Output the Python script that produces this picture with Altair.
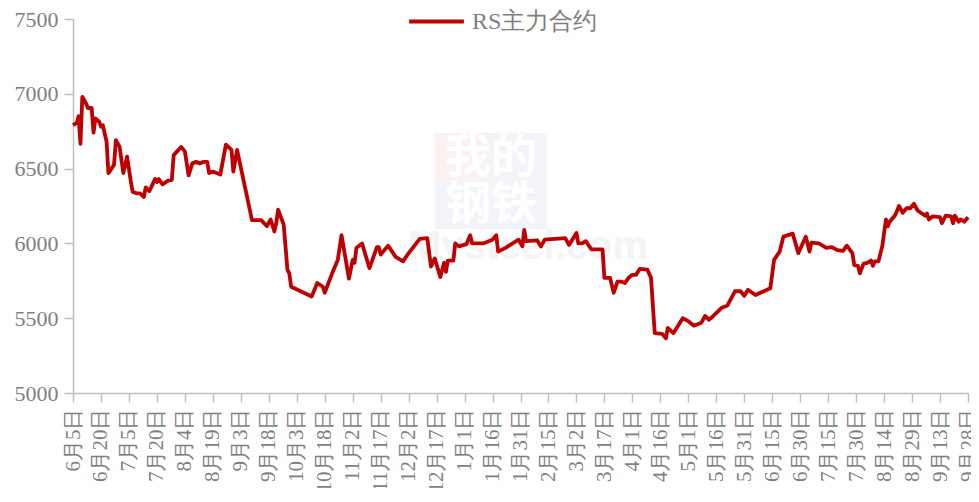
import altair as alt
import pandas as pd

SERIES_NAME = "RS主力合约"

DATES = [
    "2024-06-05", "2024-06-07", "2024-06-08", "2024-06-09", "2024-06-10", "2024-06-12", "2024-06-13",
    "2024-06-15", "2024-06-16", "2024-06-17", "2024-06-19", "2024-06-20", "2024-06-21", "2024-06-23",
    "2024-06-24", "2024-06-27", "2024-06-28", "2024-06-30", "2024-07-02", "2024-07-04", "2024-07-06",
    "2024-07-07", "2024-07-09", "2024-07-11", "2024-07-13", "2024-07-14", "2024-07-16", "2024-07-19",
    "2024-07-20", "2024-07-21", "2024-07-23", "2024-07-26", "2024-07-28", "2024-07-29", "2024-08-02",
    "2024-08-04", "2024-08-06", "2024-08-08", "2024-08-10", "2024-08-12", "2024-08-14", "2024-08-16",
    "2024-08-17", "2024-08-19", "2024-08-23", "2024-08-26", "2024-08-29", "2024-08-30", "2024-09-01",
    "2024-09-09", "2024-09-14", "2024-09-17", "2024-09-19", "2024-09-21", "2024-09-22", "2024-09-23",
    "2024-09-26", "2024-09-28", "2024-09-29", "2024-09-30", "2024-10-11", "2024-10-14", "2024-10-17",
    "2024-10-18", "2024-10-22", "2024-10-25", "2024-10-27", "2024-10-31", "2024-11-02", "2024-11-03",
    "2024-11-04", "2024-11-07", "2024-11-11", "2024-11-15", "2024-11-16", "2024-11-17", "2024-11-21",
    "2024-11-25", "2024-11-29", "2024-12-02", "2024-12-08", "2024-12-12", "2024-12-14", "2024-12-16",
    "2024-12-19", "2024-12-21", "2024-12-22", "2024-12-23", "2024-12-26", "2024-12-27", "2024-12-29",
    "2025-01-02", "2025-01-04", "2025-01-05", "2025-01-11", "2025-01-16", "2025-01-18", "2025-01-19",
    "2025-01-23", "2025-01-30", "2025-02-01", "2025-02-02", "2025-02-03", "2025-02-09", "2025-02-11",
    "2025-02-13", "2025-02-24", "2025-02-26", "2025-03-02", "2025-03-03", "2025-03-05", "2025-03-07",
    "2025-03-10", "2025-03-16", "2025-03-17", "2025-03-20", "2025-03-22", "2025-03-24", "2025-03-26",
    "2025-03-28", "2025-03-30", "2025-04-01", "2025-04-03", "2025-04-05", "2025-04-09", "2025-04-11",
    "2025-04-13", "2025-04-17", "2025-04-19", "2025-04-20", "2025-04-23", "2025-04-28", "2025-05-01",
    "2025-05-04", "2025-05-08", "2025-05-10", "2025-05-12", "2025-05-14", "2025-05-19", "2025-05-22",
    "2025-05-26", "2025-05-29", "2025-05-31", "2025-06-02", "2025-06-06", "2025-06-14", "2025-06-16",
    "2025-06-19", "2025-06-21", "2025-06-26", "2025-06-29", "2025-07-03", "2025-07-05", "2025-07-06",
    "2025-07-10", "2025-07-14", "2025-07-17", "2025-07-20", "2025-07-23", "2025-07-25", "2025-07-28",
    "2025-07-29", "2025-07-31", "2025-08-01", "2025-08-03", "2025-08-05", "2025-08-07", "2025-08-08",
    "2025-08-09", "2025-08-11", "2025-08-13", "2025-08-15", "2025-08-16", "2025-08-17", "2025-08-20",
    "2025-08-22", "2025-08-24", "2025-08-26", "2025-08-28", "2025-08-30", "2025-09-01", "2025-09-05",
    "2025-09-06", "2025-09-07", "2025-09-09", "2025-09-13", "2025-09-14", "2025-09-16", "2025-09-19",
    "2025-09-20", "2025-09-21", "2025-09-23", "2025-09-24", "2025-09-26", "2025-09-28",
]

VALUES = [
    6790, 6805, 6850, 6665, 6980, 6935, 6905,
    6905, 6740, 6835, 6815, 6780, 6790, 6680,
    6470, 6525, 6690, 6645, 6470, 6580, 6415,
    6345, 6335, 6335, 6310, 6375, 6350, 6430,
    6410, 6430, 6395, 6420, 6425, 6590, 6645,
    6615, 6455, 6535, 6545, 6535, 6545, 6545,
    6470, 6480, 6460, 6660, 6625, 6480, 6625,
    6155, 6155, 6115, 6160, 6080, 6135, 6225,
    6125, 5825, 5800, 5710, 5645, 5735, 5710,
    5670, 5800, 5890, 6055, 5765, 5890, 5870,
    5970, 6000, 5835, 5975, 5975, 5925, 5985,
    5910, 5880, 5935, 6030, 6035, 5845, 5900,
    5775, 5870, 5810, 5885, 5885, 6000, 5980,
    5995, 6055, 6000, 6000, 6025, 6055, 5945,
    5970, 6025, 5980, 6090, 6015, 6020, 5980,
    6025, 6035, 5990, 6070, 6000, 6000, 6015,
    5960, 5960, 5770, 5770, 5670, 5745, 5745,
    5735, 5770, 5790, 5790, 5830, 5825, 5770,
    5400, 5395, 5365, 5435, 5400, 5500, 5480,
    5450, 5470, 5515, 5490, 5510, 5570, 5585,
    5680, 5680, 5650, 5690, 5655, 5700, 5890,
    5945, 6045, 6065, 5935, 6045, 5945, 6005,
    6000, 5970, 5975, 5955, 5950, 5985, 5935,
    5855, 5850, 5800, 5865, 5870, 5885, 5850,
    5880, 5880, 5980, 6160, 6115, 6145, 6190,
    6250, 6205, 6235, 6235, 6265, 6220, 6185,
    6200, 6160, 6180, 6175, 6135, 6185, 6180,
    6135, 6185, 6145, 6160, 6145, 6175,
]

TICK_DATES = [
    "2024-06-05", "2024-06-20", "2024-07-05", "2024-07-20", "2024-08-04", "2024-08-19",
    "2024-09-03", "2024-09-18", "2024-10-03", "2024-10-18", "2024-11-02", "2024-11-17",
    "2024-12-02", "2024-12-17", "2025-01-01", "2025-01-16", "2025-01-31", "2025-02-15",
    "2025-03-02", "2025-03-17", "2025-04-01", "2025-04-16", "2025-05-01", "2025-05-16",
    "2025-05-31", "2025-06-15", "2025-06-30", "2025-07-15", "2025-07-30", "2025-08-14",
    "2025-08-29", "2025-09-13", "2025-09-28",
]

Y_TICKS = [5000, 5500, 6000, 6500, 7000, 7500]

FONT = "Liberation Serif"
GRAY = "#7f7f7f"
AXIS_GRAY = "#bfbfbf"
RED = "#c00000"


def dt(s):
    y, m, d = (int(p) for p in s.split("-"))
    return alt.DateTime(year=y, month=m, date=d)


df = pd.DataFrame({
    "date": pd.to_datetime(DATES),
    "value": VALUES,
    "series": [SERIES_NAME] * len(VALUES),
})

x_enc = alt.X(
    "date:T",
    title=None,
    scale=alt.Scale(domain=[dt(TICK_DATES[0]), dt(TICK_DATES[-1])], nice=False),
    axis=alt.Axis(
        values=[dt(s) for s in TICK_DATES],
        labelExpr="(month(datum.value) + 1) + '月' + date(datum.value) + '日'",
        labelAngle=-90,
        labelAlign="right",
        labelBaseline="middle",
        labelPadding=6,
        labelFontSize=21,
        tickSize=9,
        labelOverlap=False,
        grid=False,
    ),
)

y_enc = alt.Y(
    "value:Q",
    title=None,
    scale=alt.Scale(domain=[5000, 7500], nice=False, zero=False),
    axis=alt.Axis(values=Y_TICKS, format="d", tickSize=9, labelPadding=6, grid=False),
)

wm_df = pd.DataFrame({"k": [0]})
wm_base = alt.Chart(wm_df)
wm_rects = alt.layer(
    wm_base.mark_rect(color="#fcf1f1").encode(
        x=alt.value(362), x2=alt.value(417), y=alt.value(114), y2=alt.value(161)),
    wm_base.mark_rect(color="#f2f4f9").encode(
        x=alt.value(417), x2=alt.value(474), y=alt.value(114), y2=alt.value(161)),
    wm_base.mark_rect(color="#f2f4f9").encode(
        x=alt.value(362), x2=alt.value(474), y=alt.value(161), y2=alt.value(210)),
)
wm_text = alt.layer(
    wm_base.mark_text(font="Noto Sans CJK SC", fontSize=46, fontWeight="bold", color="#ffffff").encode(
        x=alt.value(418), y=alt.value(139), text=alt.value("我的")),
    wm_base.mark_text(font="Noto Sans CJK SC", fontSize=46, fontWeight="bold", color="#ffffff").encode(
        x=alt.value(418), y=alt.value(186), text=alt.value("钢铁")),
    wm_base.mark_text(font="Arial", fontSize=40, fontWeight="bold", color="#f4f4f4").encode(
        x=alt.value(455), y=alt.value(228), text=alt.value("Mysteel.com")),
)

line = alt.Chart(df).mark_line(strokeWidth=3.8, strokeJoin="round").encode(
    x=x_enc,
    y=y_enc,
    color=alt.Color(
        "series:N",
        scale=alt.Scale(domain=[SERIES_NAME], range=[RED]),
        legend=alt.Legend(
            title=None,
            orient="none",
            legendX=334,
            legendY=-27,
            symbolType="stroke",
            symbolSize=3000,
            symbolStrokeWidth=4,
            labelFont=FONT,
            labelFontSize=24,
            labelColor=GRAY,
            labelOffset=6,
        ),
    ),
)

chart = alt.layer(wm_rects, wm_text, line).properties(
    width=895,
    height=374,
    padding={"left": 65, "top": 11, "right": 3, "bottom": 95},
    autosize=alt.AutoSizeParams(type="none"),
    background="white",
).configure_view(strokeWidth=0).configure_axis(
    labelFont=FONT,
    labelFontSize=22,
    labelColor=GRAY,
    domainColor=AXIS_GRAY,
    domainWidth=1.5,
    tickColor=AXIS_GRAY,
    tickWidth=1.5,
)

chart.save("out.html", embed_options={"renderer": "svg", "actions": False})
